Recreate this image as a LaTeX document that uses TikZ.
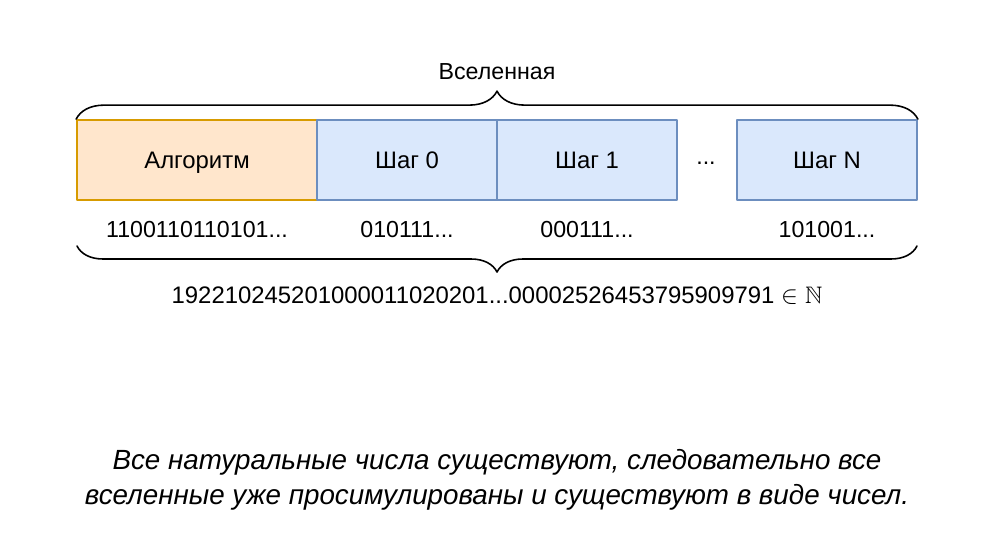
\documentclass[tikz,border=0pt]{standalone}
\usepackage{amssymb}
\usepackage{fontspec}
\setmainfont{Liberation Sans}
\usetikzlibrary{positioning,decorations.pathreplacing}

\definecolor{algofill}{HTML}{FFE6CC}
\definecolor{algodraw}{HTML}{D79B00}
\definecolor{stepfill}{HTML}{DAE8FC}
\definecolor{stepdraw}{HTML}{6C8EBF}

\begin{document}
\begin{tikzpicture}[x=0.02cm, y=-0.02cm, line cap=round, line join=round]

% --- Global TikZ Styles ---
\tikzset{
    algobox/.style={
        draw=algodraw,
        fill=algofill,
        line width=1pt,
        minimum width=4.8cm,
        minimum height=1.6cm,
        text height=2.1ex,
        text depth=0.3ex,
        font=\fontsize{13.6}{16}\selectfont
    },
    stepbox/.style={
        draw=stepdraw,
        fill=stepfill,
        line width=1pt,
        minimum width=3.6cm,
        minimum height=1.6cm,
        text height=2.1ex,
        text depth=0.3ex,
        font=\fontsize{13.6}{16}\selectfont
    },
    bits/.style={
        font=\fontsize{13.2}{16}\selectfont
    },
    bracetop/.style={
        decorate,
        decoration={brace, amplitude=0.56cm},
        line width=0.9pt
    },
    bracebottom/.style={
        decorate,
        decoration={brace, mirror, amplitude=0.52cm},
        line width=0.9pt
    }
}

\useasboundingbox (0,0) rectangle (996,560);

% --- Blokken ---
\node[algobox] (algo) at (197,160) {Алгоритм};
\node[stepbox] (step0) at (407,160) {Шаг 0};
\node[stepbox] (step1) at (587,160) {Шаг 1};
\node[bits] (dots) at (706,163) {...};
\node[stepbox] (stepN) at (827,160) {Шаг N};

% --- Bits onder de blokken ---
\node[bits] (bitsalgo) at (197,230) {1100110110101...};
\node[bits] (bits0) at (407,230) {010111...};
\node[bits] (bits1) at (587,230) {000111...};
\node[bits] (bitsN) at (827,230) {101001...};

% --- Accolades ---
\draw[bracetop] (algo.north west) -- (stepN.north east);
\node[bits] (universe) at (497,72) {Вселенная};

\coordinate (lowleft) at (77,246);
\coordinate (lowright) at (917,246);
\draw[bracebottom] (lowleft) -- (lowright);
\node[bits, font=\fontsize{13.6}{16}\selectfont] (number) at (497,296)
    {192210245201000011020201...00002526453795909791 $\in \mathbb{N}$};

% --- Conclusie ---
\node[font=\fontsize{15.8}{19.8}\selectfont\itshape, align=center] (claim) at (497,480)
    {Все натуральные числа существуют, следовательно все\\
     вселенные уже просимулированы и существуют в виде чисел.};

\end{tikzpicture}
\end{document}
